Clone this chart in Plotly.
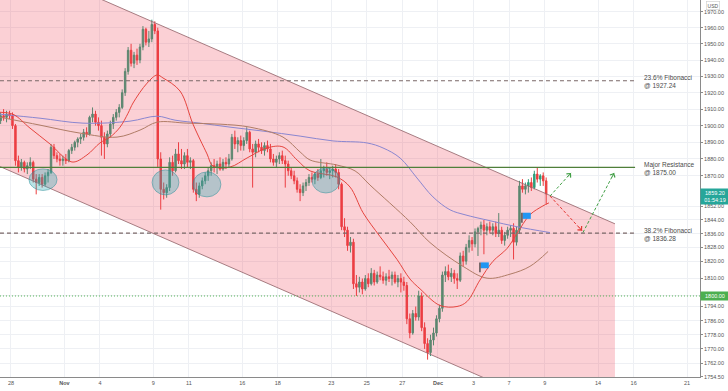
import numpy as np
import pandas as pd
import plotly.graph_objects as go

# ---------------- data ----------------
# 4H candles, XAUUSD, from 2020-10-27 (3rd..6th bar) to 2020-12-09 (1st bar)
first_bar_date = "2020-10-27"
first_slot = 2
bars_per_day = 6

opens = [
    1903, 1906, 1905, 1907,
    1906, 1900, 1879, 1875, 1878, 1874,
    1876, 1878, 1868, 1866, 1869, 1865,
    1870, 1872, 1887, 1882, 1880, 1879,
    1880, 1879, 1885, 1887, 1890, 1892,
    1893, 1896, 1895, 1905, 1907, 1902,
    1900, 1893, 1889, 1895, 1901, 1905,
    1908, 1911, 1920, 1933, 1946, 1938,
    1943, 1940, 1948, 1959, 1951, 1953,
    1962, 1958, 1880, 1862, 1860, 1863,
    1878, 1873, 1883, 1879, 1877, 1882,
    1878, 1879, 1862, 1859, 1864, 1867,
    1870, 1873, 1876, 1875, 1877, 1874,
    1878, 1877, 1880, 1893, 1889, 1891,
    1888, 1891, 1896, 1886, 1884, 1889,
    1887, 1885, 1888, 1886, 1880, 1878,
    1880, 1882, 1879, 1877, 1873, 1870,
    1867, 1862, 1860, 1864, 1866, 1869,
    1868, 1871, 1869, 1873, 1874, 1872,
    1873, 1874, 1872, 1865, 1840, 1838,
    1829, 1831, 1807, 1805, 1808, 1804,
    1810, 1807, 1813, 1808, 1812, 1811,
    1809, 1811, 1810, 1812, 1808, 1810,
    1808, 1806, 1787, 1779, 1790, 1788,
    1800, 1782, 1773, 1768, 1775, 1779,
    1787, 1793, 1812, 1814, 1811, 1813,
    1810, 1809, 1823, 1820, 1828, 1832,
    1830, 1837, 1839, 1841, 1838, 1840,
    1838, 1840, 1836, 1838, 1832, 1835,
    1838, 1839, 1831, 1838, 1864, 1862,
    1864, 1866, 1863, 1871, 1868, 1870,
    1867,
]
highs = [
    1908, 1910, 1909, 1909,
    1908, 1901, 1882, 1880, 1879, 1878,
    1881, 1879, 1871, 1871, 1871, 1872,
    1874, 1889, 1889, 1884, 1883, 1882,
    1883, 1886, 1889, 1891, 1893, 1895,
    1898, 1899, 1906, 1911, 1909, 1905,
    1903, 1896, 1897, 1903, 1907, 1910,
    1913, 1922, 1935, 1948, 1950, 1945,
    1947, 1950, 1961, 1960, 1958, 1965,
    1964, 1960, 1884, 1866, 1865, 1881,
    1882, 1886, 1890, 1886, 1884, 1886,
    1881, 1880, 1866, 1866, 1869, 1872,
    1875, 1878, 1880, 1879, 1881, 1880,
    1881, 1883, 1895, 1897, 1893, 1894,
    1893, 1899, 1897, 1889, 1891, 1892,
    1890, 1890, 1891, 1889, 1883, 1882,
    1884, 1885, 1882, 1879, 1875, 1873,
    1869, 1865, 1866, 1868, 1871, 1872,
    1872, 1874, 1880, 1876, 1878, 1875,
    1876, 1877, 1874, 1866, 1845, 1840,
    1834, 1833, 1812, 1811, 1810, 1812,
    1813, 1816, 1815, 1814, 1817, 1814,
    1813, 1815, 1814, 1814, 1812, 1813,
    1811, 1808, 1790, 1792, 1794, 1803,
    1802, 1785, 1776, 1778, 1782, 1789,
    1795, 1814, 1817, 1818, 1816, 1815,
    1813, 1825, 1826, 1830, 1835, 1834,
    1839, 1840, 1843, 1844, 1842, 1843,
    1842, 1843, 1848, 1840, 1837, 1840,
    1841, 1842, 1840, 1867, 1868, 1866,
    1868, 1869, 1873, 1875, 1871, 1872,
    1869,
]
lows = [
    1901, 1903, 1902, 1904,
    1898, 1876, 1872, 1873, 1872, 1871,
    1874, 1866, 1859, 1864, 1863, 1864,
    1866, 1871, 1880, 1878, 1876, 1876,
    1877, 1878, 1883, 1885, 1887, 1889,
    1891, 1893, 1894, 1902, 1900, 1897,
    1882, 1880, 1887, 1893, 1898, 1903,
    1905, 1910, 1918, 1931, 1936, 1935,
    1937, 1938, 1946, 1949, 1948, 1951,
    1956, 1875, 1850, 1856, 1857, 1861,
    1870, 1872, 1877, 1874, 1874, 1875,
    1874, 1860, 1855, 1857, 1862, 1865,
    1867, 1870, 1872, 1871, 1873, 1873,
    1874, 1875, 1879, 1886, 1884, 1885,
    1885, 1889, 1884, 1863, 1881, 1884,
    1883, 1882, 1884, 1878, 1876, 1875,
    1877, 1877, 1863, 1870, 1868, 1865,
    1860, 1855, 1858, 1861, 1864, 1866,
    1865, 1867, 1868, 1869, 1870, 1868,
    1869, 1869, 1862, 1838, 1834, 1826,
    1825, 1804, 1800, 1802, 1801, 1803,
    1805, 1806, 1806, 1807, 1809, 1807,
    1806, 1808, 1806, 1807, 1805, 1802,
    1803, 1784, 1776, 1778, 1786, 1786,
    1780, 1770, 1764, 1766, 1772, 1777,
    1785, 1791, 1808, 1809, 1808, 1807,
    1804, 1808, 1817, 1818, 1825, 1826,
    1828, 1823, 1835, 1824, 1835, 1836,
    1835, 1834, 1834, 1830, 1829, 1833,
    1834, 1821, 1829, 1836, 1860, 1859,
    1860, 1861, 1862, 1866, 1864, 1864,
    1853,
]
closes = [
    1906, 1905, 1907, 1906,
    1900, 1879, 1875, 1878, 1874, 1876,
    1878, 1868, 1866, 1869, 1865, 1870,
    1872, 1887, 1882, 1880, 1879, 1880,
    1879, 1885, 1887, 1890, 1892, 1893,
    1896, 1895, 1905, 1907, 1902, 1900,
    1893, 1889, 1895, 1901, 1905, 1908,
    1911, 1920, 1933, 1946, 1938, 1943,
    1940, 1948, 1959, 1951, 1953, 1962,
    1958, 1880, 1862, 1860, 1863, 1878,
    1873, 1883, 1879, 1877, 1882, 1878,
    1879, 1862, 1859, 1864, 1867, 1870,
    1873, 1876, 1875, 1877, 1874, 1878,
    1877, 1880, 1893, 1889, 1891, 1888,
    1891, 1896, 1886, 1884, 1889, 1887,
    1885, 1888, 1886, 1880, 1878, 1880,
    1882, 1879, 1877, 1873, 1870, 1867,
    1862, 1860, 1864, 1866, 1869, 1868,
    1871, 1869, 1873, 1874, 1872, 1873,
    1874, 1872, 1865, 1840, 1838, 1829,
    1831, 1807, 1805, 1808, 1804, 1810,
    1807, 1813, 1808, 1812, 1811, 1809,
    1811, 1810, 1812, 1808, 1810, 1808,
    1806, 1787, 1779, 1790, 1788, 1800,
    1782, 1773, 1768, 1775, 1779, 1787,
    1793, 1812, 1814, 1811, 1813, 1810,
    1809, 1823, 1820, 1828, 1832, 1830,
    1837, 1839, 1841, 1838, 1840, 1838,
    1840, 1836, 1838, 1832, 1835, 1838,
    1839, 1831, 1838, 1864, 1862, 1864,
    1866, 1863, 1871, 1868, 1870, 1867,
    1859.2,
]

# moving averages (x in trading days from Oct 28, price)
ma_fast_x = [-0.62, 0.11, 1.07, 2.19, 3.43, 4.27, 5.0, 5.57, 6.13, 6.58, 6.86, 7.65, 8.21, 8.54, 9.5,
             10.23, 11.02, 11.35, 12.31, 13.27, 14.39, 15.29, 16.08, 16.81, 18.32, 19.06, 19.79, 20.74,
             21.7, 22.43, 22.99, 24.11, 25.07, 25.63, 26.36, 27.09, 27.88, 28.44, 29.17, 29.9, 30.24]
ma_fast_y = [1908.1, 1906.9, 1898.5, 1889.0, 1878.2, 1882.4, 1889.6, 1893.1, 1899.1, 1907.5, 1913.7,
             1925.8, 1930.8, 1929.0, 1921.0, 1900.9, 1883.0, 1875.8, 1875.2, 1880.6, 1886.6, 1887.2,
             1879.4, 1872.9, 1869.3, 1863.3, 1848.2, 1834.3, 1821.0, 1809.7, 1804.1, 1794.6, 1794.0,
             1796.8, 1809.1, 1819.9, 1827.3, 1836.0, 1847.0, 1852.2, 1854.0]
ma_mid_x = [-0.62, 1.63, 3.88, 5.96, 7.25, 8.21, 9.89, 11.75, 13.43, 15.29, 16.25, 16.81, 18.32, 19.34,
            20.18, 22.43, 23.55, 25.41, 26.76, 28.05, 29.17, 30.19]
ma_mid_y = [1905.1, 1900.3, 1895.5, 1893.1, 1897.3, 1902.1, 1901.5, 1900.9, 1899.1, 1893.1, 1884.2,
            1879.4, 1876.4, 1872.9, 1864.5, 1842.9, 1830.8, 1817.0, 1810.2, 1812.5, 1817.0, 1825.6]
ma_slow_x = [-0.62, 1.63, 4.05, 6.69, 8.21, 9.22, 10.62, 12.31, 14.17, 16.25, 18.1, 20.01, 20.91, 21.87,
             22.82, 23.72, 24.68, 25.52, 26.93, 28.44, 30.3]
ma_slow_y = [1906.9, 1904.5, 1901.5, 1902.7, 1905.7, 1903.3, 1901.5, 1899.1, 1896.7, 1893.7, 1890.8,
             1889.6, 1886.6, 1880.6, 1868.7, 1857.5, 1849.9, 1847.0, 1843.5, 1840.0, 1836.6]

# descending channel (x in trading days, prices)
channel_x = [-0.62, 33.95]
channel_upper = [2005.7, 1841.7]
channel_lower = [1875.5, 1722.3]

# horizontal levels
fib_236 = 1927.24
resistance = 1875.00
fib_382 = 1836.28
support_1800 = 1800.00
level_x = [-0.62, 35.08]
label_x = 35.47

# projected paths
red_path_x = [30.3, 32.1]
red_path_y = [1858.0, 1837.7]
green_path1_x = [30.3, 31.48]
green_path1_y = [1858.0, 1871.7]
green_path2_x = [32.15, 33.9]
green_path2_y = [1836.6, 1871.7]

# highlighted zones (ellipses)
ell_x0 = [1.01, 7.93, 10.23, 16.92]
ell_x1 = [2.59, 9.44, 11.80, 18.49]
ell_lo = [1861.3, 1858.7, 1857.5, 1859.8]
ell_hi = [1874.1, 1873.5, 1872.3, 1874.6]

# flag markers
flag_x = [26.36, 28.72]
flag_top = [1819.3, 1848.2]
flag_mid = [1815.9, 1844.6]
flag_bot = [1813.6, 1842.4]

last_price = 1859.20
countdown = "01:54:19"

tick_dates = ["2020-10-28", "2020-11-02", "2020-11-04", "2020-11-09", "2020-11-11", "2020-11-16",
              "2020-11-18", "2020-11-23", "2020-11-25", "2020-11-27", "2020-12-01", "2020-12-03",
              "2020-12-07", "2020-12-09", "2020-12-14", "2020-12-16", "2020-12-21"]
tick_text = ["28", "<b>Nov</b>", "4", "9", "11", "16", "18", "23", "25", "27", "<b>Dec</b>", "3", "7", "9",
             "14", "16", "21"]
ytick_vals = [1970, 1960, 1950, 1940, 1930, 1920, 1910, 1900, 1890, 1880, 1870, 1852, 1844, 1836, 1828,
              1820, 1810, 1800, 1794, 1786, 1778, 1770, 1762, 1754.5]

# ---------------- axis mapping ----------------
cal = [d.strftime("%Y-%m-%d") for d in pd.bdate_range("2020-10-27", "2020-12-31")]
origin = cal.index("2020-10-28")


def day_pos(date):
    return cal.index(date) - origin


x_bars = []
for i in range(len(closes)):
    g = first_slot + i
    x_bars.append(day_pos(first_bar_date) + g // bars_per_day + (g % bars_per_day + 0.5) / bars_per_day)

tick_vals = [day_pos(d) for d in tick_dates]

FONT = "Liberation Sans, Arial, sans-serif"
PINK = "rgba(240,60,80,0.24)"
CH_LINE = "rgba(150,105,110,0.85)"
UP = "#2f9e7a"
DOWN = "#eb3f3f"

fig = go.Figure()

# channel fill
fig.add_trace(go.Scatter(
    x=[channel_x[0], channel_x[1], channel_x[1], channel_x[0], channel_x[0]],
    y=[channel_upper[0], channel_upper[1], channel_lower[1], channel_lower[0], channel_upper[0]],
    fill="toself", fillcolor=PINK, mode="none", hoverinfo="skip"))
fig.add_trace(go.Scatter(x=channel_x, y=channel_upper, mode="lines",
                         line=dict(color=CH_LINE, width=1), hoverinfo="skip"))
fig.add_trace(go.Scatter(x=channel_x, y=channel_lower, mode="lines",
                         line=dict(color=CH_LINE, width=1), hoverinfo="skip"))

# levels
fig.add_trace(go.Scatter(x=level_x, y=[fib_236] * 2, mode="lines",
                         line=dict(color="#7a6767", width=1.1, dash="4px,3px"), hoverinfo="skip"))
fig.add_trace(go.Scatter(x=level_x, y=[fib_382] * 2, mode="lines",
                         line=dict(color="#7a6767", width=1.1, dash="4px,3px"), hoverinfo="skip"))
fig.add_trace(go.Scatter(x=[level_x[0], 38.8], y=[support_1800] * 2, mode="lines",
                         line=dict(color="#4caf50", width=1, dash="1px,2px"), hoverinfo="skip"))

# moving averages
fig.add_trace(go.Scatter(x=ma_slow_x, y=ma_slow_y, mode="lines", line=dict(color="#8a86d0", width=1),
                         line_shape="spline", hoverinfo="skip"))
fig.add_trace(go.Scatter(x=ma_mid_x, y=ma_mid_y, mode="lines", line=dict(color="#b07c66", width=1),
                         line_shape="spline", hoverinfo="skip"))
fig.add_trace(go.Scatter(x=ma_fast_x, y=ma_fast_y, mode="lines", line=dict(color="#e6453f", width=1),
                         line_shape="spline", hoverinfo="skip"))

# candles
fig.add_trace(go.Candlestick(
    x=x_bars, open=opens, high=highs, low=lows, close=closes,
    increasing=dict(line=dict(color=UP, width=1), fillcolor=UP),
    decreasing=dict(line=dict(color=DOWN, width=1), fillcolor=DOWN),
    whiskerwidth=0, hoverinfo="skip"))

# resistance line (drawn above candles)
fig.add_trace(go.Scatter(x=level_x, y=[resistance] * 2, mode="lines",
                         line=dict(color="#4f7f3a", width=1.4), hoverinfo="skip"))

# projections
fig.add_trace(go.Scatter(x=red_path_x, y=red_path_y, mode="lines",
                         line=dict(color="#e53935", width=1, dash="3px,2px"), hoverinfo="skip"))
fig.add_trace(go.Scatter(x=green_path1_x, y=green_path1_y, mode="lines",
                         line=dict(color="#43a047", width=1, dash="3px,2px"), hoverinfo="skip"))
fig.add_trace(go.Scatter(x=green_path2_x, y=green_path2_y, mode="lines",
                         line=dict(color="#43a047", width=1, dash="3px,2px"), hoverinfo="skip"))

shapes = []
for x0, x1, lo, hi in zip(ell_x0, ell_x1, ell_lo, ell_hi):
    shapes.append(dict(type="circle", xref="x", yref="y", x0=x0, x1=x1, y0=lo, y1=hi,
                       fillcolor="rgba(40,170,180,0.33)", line=dict(color="rgba(40,140,150,0.6)", width=0.8),
                       layer="above"))
for fx, ft, fm, fb in zip(flag_x, flag_top, flag_mid, flag_bot):
    shapes.append(dict(type="rect", xref="x", yref="y", x0=fx + 0.04, x1=fx + 0.5, y0=fm, y1=ft,
                       fillcolor="#2196f3", line=dict(width=0), layer="above"))
    shapes.append(dict(type="line", xref="x", yref="y", x0=fx, x1=fx, y0=fb, y1=ft,
                       line=dict(color="#333", width=1.2), layer="above"))

annotations = []
lab_font = dict(family=FONT, size=6.5, color="#4a4a4a")
for val, txt in [(fib_236, "23.6% Fibonacci<br>@ 1927.24"),
                 (resistance, "Major Resistance<br>@ 1875.00"),
                 (fib_382, "38.2% Fibonacci<br>@ 1836.28")]:
    annotations.append(dict(x=label_x, y=np.log10(val), xref="x", yref="y", text=txt, showarrow=False,
                            xanchor="left", yanchor="middle", align="left", font=lab_font, yshift=-1))

# arrow heads
for tx, ty, axp, ayp, col in [(red_path_x[1], red_path_y[1], -5, -5.5, "#e53935"),
                               (green_path1_x[1], green_path1_y[1], -5, 5.5, "#43a047"),
                               (green_path2_x[1], green_path2_y[1], -3, 6, "#43a047")]:
    annotations.append(dict(x=tx, y=np.log10(ty), xref="x", yref="y", ax=axp, ay=ayp, text="",
                            showarrow=True, arrowhead=4, arrowsize=1.1, arrowwidth=1, arrowcolor=col))

# price boxes on axis
annotations.append(dict(x=1, y=np.log10(last_price), xref="paper", yref="y", xanchor="left",
                        yanchor="top", yshift=6, text=f"{last_price:.2f}<br>{countdown}", showarrow=False,
                        bgcolor="#26a69a", font=dict(family=FONT, size=5.5, color="white"), borderpad=1,
                        align="center", width=26))
annotations.append(dict(x=1, y=np.log10(support_1800), xref="paper", yref="y", xanchor="left",
                        yanchor="middle", text=f"{support_1800:.2f}", showarrow=False,
                        bgcolor="#4caf50", font=dict(family=FONT, size=5.5, color="white"), borderpad=1,
                        width=26))
annotations.append(dict(x=1, y=1, xref="paper", yref="paper", xanchor="left", yanchor="top", xshift=6,
                        yshift=-1, text="USD", showarrow=False, bgcolor="white", bordercolor="#ccc",
                        borderwidth=0.6, font=dict(family=FONT, size=5, color="#555"), borderpad=1))

log_lo = np.log10(1754.3)
log_hi = np.log10(1977.3)

fig.update_layout(
    width=728, height=391,
    margin=dict(l=0, r=28, t=0, b=14),
    paper_bgcolor="white", plot_bgcolor="white",
    showlegend=False,
    font=dict(family=FONT),
    shapes=shapes,
    annotations=annotations,
    xaxis=dict(range=[-0.618, 38.73], tickmode="array", tickvals=tick_vals, ticktext=tick_text,
               showgrid=True, gridcolor="#eef0f4", gridwidth=1, zeroline=False, showline=True,
               linecolor="#8a8a8a", linewidth=1, ticks="", tickfont=dict(size=5.5, color="#555"),
               rangeslider=dict(visible=False), fixedrange=True),
    yaxis=dict(type="log", side="right", range=[log_lo, log_hi], tickmode="array", tickvals=ytick_vals,
               ticktext=[f"{v:.2f}" for v in ytick_vals], showgrid=True, gridcolor="#eef0f4",
               zeroline=False, showline=True, linecolor="#8a8a8a", linewidth=1, ticks="outside",
               ticklen=2, tickcolor="#8a8a8a", tickfont=dict(size=5.5, color="#555"), fixedrange=True),
)

fig.write_html("out.html", config={"displayModeBar": False},
               post_script="document.body.style.margin='0';document.body.style.overflow='hidden';")
